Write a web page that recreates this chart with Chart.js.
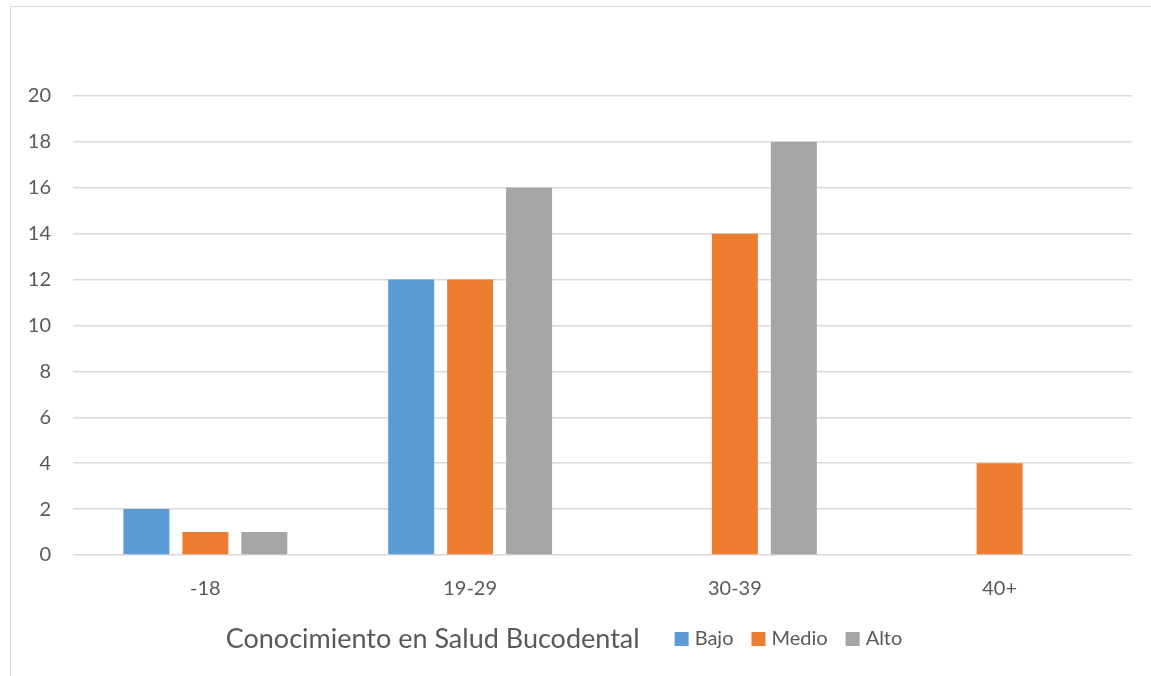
<!DOCTYPE html>
<html>
<head>
<meta charset="utf-8">
<script src="https://cdn.jsdelivr.net/npm/chart.js@4/dist/chart.umd.min.js"></script>
<style>
    body { margin: 0; background: #fff; }
    .frame {
        position: absolute; left: 10px; top: 6px; width: 1200px; height: 700px;
        border: 1.5px solid #d9d9d9; box-sizing: border-box;
    }
    .wrap { position: absolute; left: 0; top: 0; width: 1151px; height: 676px; }
</style>
</head>
<body>
<div class="frame"></div>
<div class="wrap"><canvas id="chart" width="1151" height="676"></canvas></div>
<script>
const categories = ['-18', '19-29', '30-39', '40+'];
const bajo = [2, 12, 0, 0];
const medio = [1, 12, 14, 4];
const alto = [1, 16, 18, 0];
const yTicks = [0, 2, 4, 6, 8, 10, 12, 14, 16, 18, 20];
const axisTitle = 'Conocimiento en Salud Bucodental';

const textColor = '#595959';
const fontFamily = 'Lato, "Open Sans", sans-serif';

// axis title and legend share one row under the category labels
const bottomRow = {
    id: 'bottomRow',
    afterDraw(chart) {
        const ctx = chart.ctx;
        const y = 639;
        ctx.save();
        ctx.textBaseline = 'middle';
        ctx.fillStyle = textColor;
        ctx.font = '27px ' + fontFamily;
        const titleW = ctx.measureText(axisTitle).width;
        ctx.font = '20px ' + fontFamily;
        let itemsW = 0;
        chart.data.datasets.forEach(ds => {
            itemsW += 14 + 6 + ctx.measureText(ds.label).width + 18;
        });
        itemsW -= 18;
        let x = 564 - (titleW + 35 + itemsW) / 2;
        ctx.font = '27px ' + fontFamily;
        ctx.fillText(axisTitle, x, y);
        x += titleW + 35;
        ctx.font = '20px ' + fontFamily;
        chart.data.datasets.forEach(ds => {
            ctx.fillStyle = ds.backgroundColor;
            ctx.fillRect(x, y - 7, 14, 14);
            x += 20;
            ctx.fillStyle = textColor;
            ctx.fillText(ds.label, x, y);
            x += ctx.measureText(ds.label).width + 18;
        });
        ctx.restore();
    }
};

new Chart(document.getElementById('chart'), {
    type: 'bar',
    data: {
        labels: categories,
        datasets: [
            { label: 'Bajo', data: bajo, backgroundColor: '#5B9BD5' },
            { label: 'Medio', data: medio, backgroundColor: '#ED7D31' },
            { label: 'Alto', data: alto, backgroundColor: '#A5A5A5' }
        ]
    },
    options: {
        responsive: false,
        animation: false,
        categoryPercentage: 0.668,
        barPercentage: 0.78,
        layout: { padding: { top: 96, right: 19, left: 10, bottom: 0 } },
        plugins: {
            legend: { display: false },
            tooltip: { enabled: false }
        },
        scales: {
            x: {
                grid: { display: false },
                border: { display: false },
                ticks: { color: textColor, font: { family: fontFamily, size: 20 }, padding: 14 },
                afterFit(scale) { scale.height = 121; }
            },
            y: {
                min: 0,
                max: 20,
                afterBuildTicks(scale) { scale.ticks = yTicks.map(v => ({ value: v })); },
                grid: { color: '#d9d9d9', lineWidth: 1.5, drawTicks: false },
                border: { display: false },
                ticks: { color: textColor, font: { family: fontFamily, size: 20 }, padding: 22 },
                afterFit(scale) { scale.width = 63; }
            }
        }
    },
    plugins: [bottomRow]
});
</script>
</body>
</html>
